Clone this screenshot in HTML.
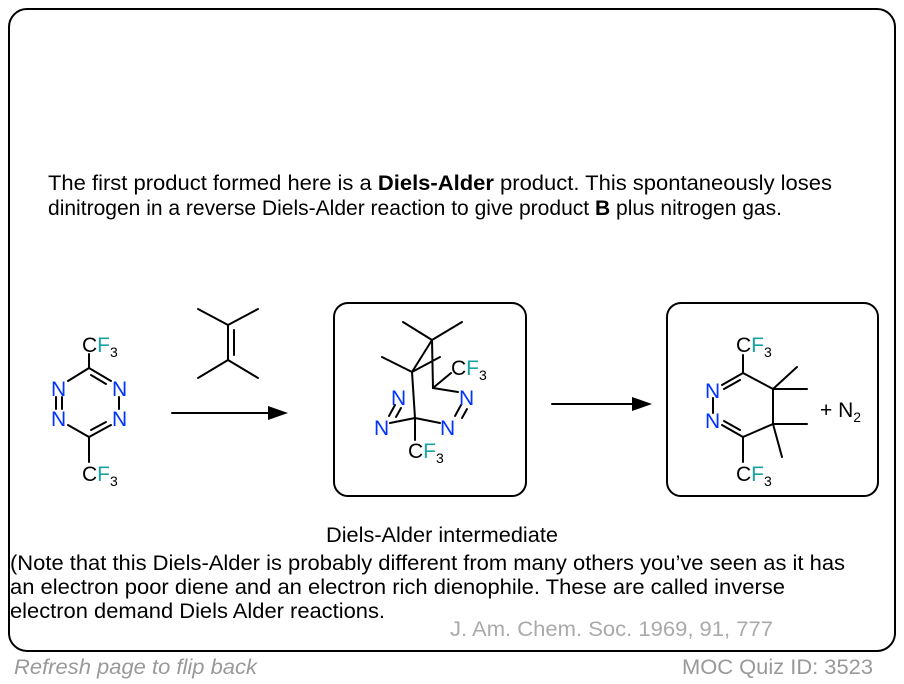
<!DOCTYPE html>
<html><head><meta charset="utf-8"><style>
html,body{margin:0;padding:0;background:#fff;width:904px;height:684px;overflow:hidden}
svg{display:block}
text{font-family:"Liberation Sans",Arial,sans-serif}
</style></head><body>
<svg width="904" height="684" viewBox="0 0 904 684" xmlns="http://www.w3.org/2000/svg">
<rect x="9" y="9" width="886" height="642" rx="18" fill="#fff" stroke="#000" stroke-width="2"/>
<g font-size="21.5" fill="#000">
<text x="48" y="190" textLength="784" lengthAdjust="spacingAndGlyphs">The first product formed here is a <tspan font-weight="bold">Diels-Alder</tspan> product. This spontaneously loses</text>
<text x="48" y="215" textLength="734" lengthAdjust="spacingAndGlyphs">dinitrogen in a reverse Diels-Alder reaction to give product <tspan font-weight="bold">B</tspan> plus nitrogen gas.</text>
<text x="326" y="542" textLength="232" lengthAdjust="spacingAndGlyphs">Diels-Alder intermediate</text>
<text x="10" y="570" textLength="835" lengthAdjust="spacingAndGlyphs">(Note that this Diels-Alder is probably different from many others you’ve seen as it has</text>
<text x="10" y="594" textLength="775" lengthAdjust="spacingAndGlyphs">an electron poor diene and an electron rich dienophile. These are called inverse</text>
<text x="10" y="618" textLength="375" lengthAdjust="spacingAndGlyphs">electron demand Diels Alder reactions.</text>
</g>
<text x="450" y="636" font-size="21.5" fill="#aaa" textLength="323" lengthAdjust="spacingAndGlyphs">J. Am. Chem. Soc. 1969, 91, 777</text>
<text x="14" y="674" font-size="21.5" fill="#999" font-style="italic" textLength="243" lengthAdjust="spacingAndGlyphs">Refresh page to flip back</text>
<text x="682" y="674" font-size="21.5" fill="#999" textLength="191" lengthAdjust="spacingAndGlyphs">MOC Quiz ID: 3523</text>

<g stroke="#000" stroke-width="2" fill="none" stroke-linecap="round">
<line x1="89" y1="354" x2="89" y2="368"/>
<line x1="89" y1="368" x2="68" y2="381"/>
<line x1="89" y1="368" x2="111" y2="381"/>
<line x1="91" y1="375" x2="106" y2="384"/>
<line x1="56" y1="397" x2="56" y2="409"/>
<line x1="62" y1="397" x2="62" y2="409"/>
<line x1="119" y1="397" x2="119" y2="409"/>
<line x1="89" y1="437" x2="68" y2="425"/>
<line x1="89" y1="437" x2="111" y2="425"/>
<line x1="91" y1="430" x2="106" y2="422"/>
<line x1="89" y1="437" x2="89" y2="462"/>
<line x1="198" y1="309" x2="228" y2="325"/>
<line x1="258" y1="309" x2="228" y2="325"/>
<line x1="228" y1="325" x2="228" y2="360"/>
<line x1="234" y1="330" x2="234" y2="355"/>
<line x1="198" y1="378" x2="228" y2="360"/>
<line x1="258" y1="378" x2="228" y2="360"/>
<line x1="172" y1="413" x2="270" y2="413"/>
<line x1="552" y1="404" x2="635" y2="404"/>
<rect x="334" y="303" width="192" height="193" rx="14"/>
<rect x="667" y="303" width="211" height="193" rx="14"/>
<line x1="403" y1="322" x2="432" y2="340"/>
<line x1="462" y1="322" x2="432" y2="340"/>
<line x1="432" y1="340" x2="412" y2="372"/>
<line x1="382" y1="357" x2="412" y2="372"/>
<line x1="432" y1="340" x2="433" y2="388"/>
<line x1="412" y1="372" x2="440" y2="357"/>
<line x1="412" y1="372" x2="415" y2="418"/>
<line x1="433" y1="388" x2="451" y2="373"/>
<line x1="433" y1="388" x2="458" y2="392"/>
<line x1="461" y1="405" x2="455" y2="416"/>
<line x1="467" y1="409" x2="462" y2="418"/>
<line x1="415" y1="418" x2="440" y2="423"/>
<line x1="415" y1="418" x2="390" y2="423"/>
<line x1="395" y1="405" x2="389" y2="416"/>
<line x1="401" y1="408" x2="396" y2="417"/>
<line x1="415" y1="418" x2="415" y2="440"/>
<line x1="743" y1="373" x2="743" y2="355"/>
<line x1="743" y1="373" x2="722" y2="385"/>
<line x1="740" y1="380" x2="724" y2="389"/>
<line x1="743" y1="373" x2="773" y2="389"/>
<line x1="713" y1="398" x2="713" y2="413"/>
<line x1="743" y1="437" x2="722" y2="425"/>
<line x1="740" y1="430" x2="724" y2="421"/>
<line x1="743" y1="437" x2="773" y2="424"/>
<line x1="743" y1="437" x2="743" y2="462"/>
<line x1="773" y1="389" x2="773" y2="424"/>
<line x1="773" y1="389" x2="797" y2="367"/>
<line x1="773" y1="389" x2="807" y2="389"/>
<line x1="773" y1="424" x2="807" y2="424"/>
<line x1="773" y1="424" x2="782" y2="457"/>
</g>
<polygon points="288,413 268,406 268,420" fill="#000"/>
<polygon points="652,404 632,397 632,411" fill="#000"/>

<g font-size="21">
<text x="82" y="352">C<tspan fill="#1aa3a3">F</tspan><tspan font-size="14" dy="5">3</tspan></text>
<text x="82" y="481">C<tspan fill="#1aa3a3">F</tspan><tspan font-size="14" dy="5">3</tspan></text>
<g fill="#0033ff">
<text x="51" y="396">N</text><text x="112" y="396">N</text>
<text x="51" y="426">N</text><text x="112" y="426">N</text>
<text x="391" y="405">N</text><text x="459" y="405">N</text>
<text x="374" y="435">N</text><text x="440" y="435">N</text>
<text x="705" y="398">N</text><text x="705" y="428">N</text>
</g>
<text x="451" y="375">C<tspan fill="#1aa3a3">F</tspan><tspan font-size="14" dy="5">3</tspan></text>
<text x="408" y="458">C<tspan fill="#1aa3a3">F</tspan><tspan font-size="14" dy="5">3</tspan></text>
<text x="736" y="352">C<tspan fill="#1aa3a3">F</tspan><tspan font-size="14" dy="5">3</tspan></text>
<text x="736" y="481">C<tspan fill="#1aa3a3">F</tspan><tspan font-size="14" dy="5">3</tspan></text>
<text x="820" y="417">+ N<tspan font-size="14" dy="5">2</tspan></text>
</g>
</svg>
</body></html>
